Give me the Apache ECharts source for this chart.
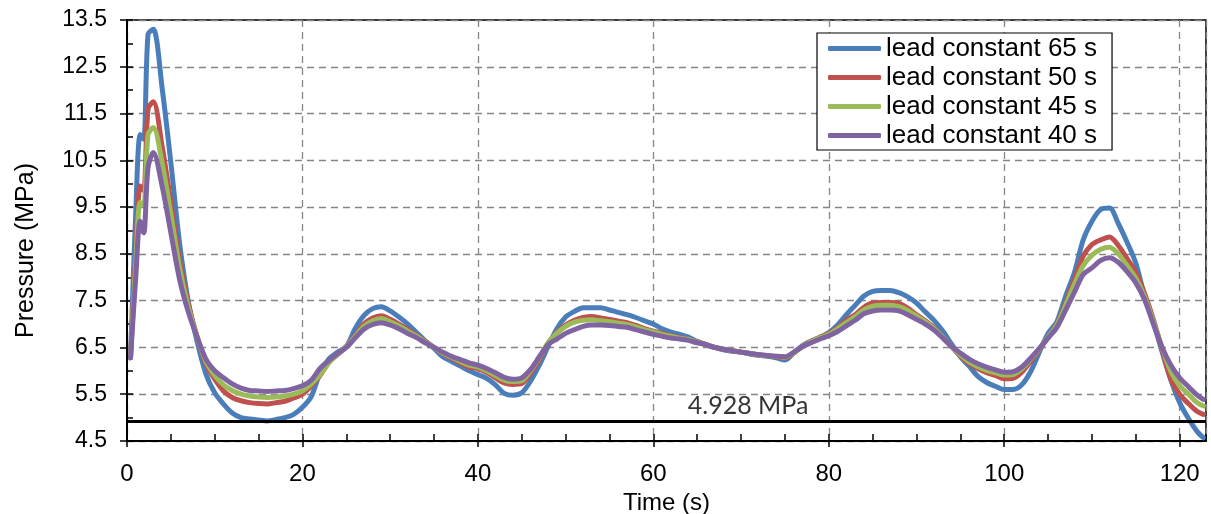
<!DOCTYPE html>
<html>
<head>
<meta charset="utf-8">
<script src="https://cdn.jsdelivr.net/npm/echarts@6/dist/echarts.min.js"></script>
<style>
html,body{margin:0;padding:0;background:#fff;}
#chart{width:1211px;height:514px;}
</style>
</head>
<body>
<div id="chart"></div>
<script>
// ---- data ----
const time = [0.4,1.0,1.5,1.9,2.4,3.0,4,5,6,7,8,9,10,11,12,13,14,15,16,17,18,19,20,21,22,23,24,25,26,27,28,29,30,31,32,33,34,35,36,37,38,39,40,41,42,43,44,45,46,47,48,49,50,51,52,53,54,55,56,57,58,59,60,61,62,63,64,65,66,67,68,69,70,71,72,73,74,75,76,77,78,79,80,81,82,83,84,85,86,87,88,89,90,91,92,93,94,95,96,97,98,99,100,101,102,103,104,105,106,107,108,109,110,111,112,113,114,115,116,117,118,119,120,121,122,122.7];

const lead65 = [6.28,9.4,11.05,10.95,13.2,13.3,12.05,10.45,8.72,7.47,6.62,5.93,5.53,5.29,5.1,5.0,4.97,4.95,4.93,4.96,5.0,5.07,5.22,5.45,5.95,6.25,6.4,6.52,6.9,7.18,7.33,7.37,7.28,7.15,7.0,6.82,6.64,6.48,6.3,6.2,6.1,6.0,5.92,5.84,5.7,5.52,5.48,5.53,5.78,6.12,6.52,6.9,7.15,7.27,7.35,7.35,7.35,7.3,7.25,7.2,7.14,7.07,7.0,6.9,6.83,6.78,6.72,6.63,6.56,6.5,6.45,6.42,6.4,6.36,6.33,6.31,6.28,6.23,6.38,6.54,6.64,6.72,6.82,6.98,7.2,7.4,7.6,7.7,7.72,7.72,7.67,7.58,7.45,7.26,7.08,6.85,6.57,6.3,6.1,5.88,5.75,5.67,5.6,5.6,5.7,5.98,6.4,6.8,7.05,7.6,8.1,8.8,9.2,9.45,9.48,9.15,8.75,8.3,7.6,7.05,6.4,5.8,5.32,4.98,4.7,4.57];

const lead50 = [6.28,8.5,9.95,9.85,11.6,11.75,10.8,9.6,8.35,7.43,6.72,6.15,5.82,5.57,5.43,5.36,5.32,5.3,5.29,5.32,5.35,5.42,5.5,5.68,5.9,6.18,6.35,6.52,6.75,7.0,7.13,7.18,7.1,7.0,6.88,6.76,6.63,6.5,6.37,6.27,6.17,6.08,6.05,5.97,5.85,5.74,5.71,5.73,5.95,6.24,6.58,6.82,6.98,7.08,7.14,7.16,7.13,7.1,7.06,7.03,6.97,6.9,6.85,6.8,6.75,6.71,6.67,6.62,6.56,6.5,6.46,6.43,6.4,6.37,6.34,6.32,6.3,6.28,6.38,6.52,6.63,6.72,6.8,6.92,7.08,7.2,7.36,7.45,7.46,7.46,7.44,7.34,7.2,7.07,6.92,6.72,6.52,6.32,6.16,6.05,5.96,5.9,5.83,5.84,5.97,6.2,6.45,6.72,7.0,7.45,7.95,8.45,8.7,8.8,8.86,8.68,8.4,8.1,7.65,7.1,6.45,5.82,5.5,5.3,5.13,5.07];

const lead45 = [6.28,8.3,9.6,9.55,11.05,11.2,10.45,9.35,8.2,7.35,6.72,6.2,5.9,5.7,5.58,5.5,5.46,5.44,5.43,5.44,5.46,5.5,5.57,5.72,5.92,6.17,6.36,6.52,6.73,6.95,7.07,7.12,7.05,6.96,6.85,6.74,6.62,6.5,6.38,6.29,6.2,6.12,6.08,6.0,5.9,5.8,5.77,5.79,6.0,6.28,6.6,6.8,6.95,7.04,7.08,7.09,7.07,7.05,7.02,6.99,6.94,6.88,6.83,6.78,6.74,6.7,6.67,6.61,6.56,6.5,6.46,6.43,6.4,6.37,6.34,6.32,6.31,6.29,6.38,6.52,6.62,6.71,6.78,6.9,7.03,7.16,7.3,7.38,7.4,7.4,7.37,7.29,7.17,7.05,6.9,6.72,6.52,6.34,6.19,6.09,6.01,5.96,5.91,5.92,6.04,6.25,6.47,6.72,6.98,7.4,7.85,8.25,8.47,8.6,8.64,8.5,8.25,7.98,7.58,7.05,6.5,5.98,5.68,5.5,5.32,5.25];

const lead40 = [6.28,8.0,9.2,8.95,10.35,10.67,9.95,8.95,7.95,7.25,6.72,6.25,6.0,5.85,5.72,5.63,5.58,5.57,5.56,5.57,5.58,5.62,5.68,5.8,6.05,6.22,6.37,6.5,6.7,6.89,6.99,7.03,6.98,6.9,6.8,6.71,6.6,6.5,6.4,6.31,6.24,6.17,6.12,6.05,5.96,5.86,5.82,5.85,6.03,6.3,6.56,6.68,6.8,6.88,6.95,6.98,6.98,6.97,6.95,6.93,6.88,6.83,6.78,6.74,6.7,6.68,6.65,6.6,6.56,6.5,6.46,6.43,6.4,6.37,6.35,6.33,6.31,6.3,6.4,6.52,6.6,6.68,6.75,6.84,6.96,7.08,7.22,7.28,7.3,7.3,7.28,7.2,7.1,7.0,6.87,6.7,6.52,6.38,6.25,6.15,6.08,6.02,5.97,5.98,6.08,6.27,6.48,6.7,6.93,7.3,7.68,8.06,8.2,8.36,8.42,8.32,8.12,7.88,7.52,7.0,6.5,6.12,5.85,5.66,5.48,5.39];

const seriesNames = ['lead constant 65 s','lead constant 50 s','lead constant 45 s','lead constant 40 s'];
const seriesColors = ['#4A7EBB','#C0504D','#9BBB59','#8064A2'];
const seriesValues = [lead65, lead50, lead45, lead40];

const threshold = 4.928;
const thresholdLabel = '4.928 MPa';
const thresholdLabelTime = 70.8;

const xTickLabels = [0,20,40,60,80,100,120];
const yTickLabels = [4.5,5.5,6.5,7.5,8.5,9.5,10.5,11.5,12.5,13.5];

// ---- chart ----
const FONT = '"Liberation Sans", Arial, sans-serif';
const chart = echarts.init(document.getElementById('chart'), null, {renderer:'canvas'});

const lineSeries = seriesNames.map((name, k) => ({
  name: name,
  type: 'line',
  xAxisIndex: 0,
  yAxisIndex: 0,
  data: time.map((t, i) => [t, seriesValues[k][i]]),
  showSymbol: false,
  smooth: 0.3,
  lineStyle: {color: seriesColors[k], width: 5, cap: 'round', join: 'round'},
  itemStyle: {color: seriesColors[k]},
  z: 3 + k,
  animation: false
}));

const gridLine = {show: true, lineStyle: {color: '#858585', width: 1.3, type: [7, 5]}};

const option = {
  backgroundColor: '#fff',
  animation: false,
  grid: {left: 127, right: 5, top: 20, bottom: 73, containLabel: false, outerBoundsMode: 'none',
    show: true, borderColor: '#000', borderWidth: 1.5, backgroundColor: 'transparent'},
  legend: {
    data: seriesNames,
    orient: 'vertical',
    left: 817, top: 33,
    padding: [1, 15, 0, 11],
    itemGap: 0,
    itemWidth: 53, itemHeight: 5,
    icon: 'roundRect',
    backgroundColor: '#fff',
    borderColor: '#000', borderWidth: 1.2,
    textStyle: {fontFamily: FONT, fontSize: 26, color: '#000', lineHeight: 29}
  },
  xAxis: [{
    type: 'value', min: 0, max: 123, interval: 20,
    name: 'Time (s)', nameLocation: 'middle', nameGap: 47,
    nameTextStyle: {fontFamily: FONT, fontSize: 24, color: '#000'},
    axisLine: {show: true, onZero: false, lineStyle: {color: '#000', width: 2}},
    axisTick: {show: true, inside: false, length: 6, lineStyle: {color: '#000', width: 1.5}},
    axisLabel: {show: true, margin: 21, fontFamily: FONT, fontSize: 24, color: '#000', showMaxLabel: false,
      formatter: v => xTickLabels.includes(v) ? String(v) : ''},
    splitLine: gridLine
  }, {
    type: 'value', min: 0, max: 123, interval: 5, position: 'bottom',
    axisLine: {show: false},
    axisTick: {show: true, inside: true, length: 7, lineStyle: {color: '#000', width: 1.5}},
    axisLabel: {show: false},
    splitLine: {show: false}
  }],
  yAxis: [{
    type: 'value', min: 4.5, max: 13.5, interval: 1,
    name: 'Pressure (MPa)', nameLocation: 'middle', nameGap: 88,
    nameTextStyle: {fontFamily: FONT, fontSize: 25, color: '#000', padding: [0, 40, 0, 0]},
    axisLine: {show: true, onZero: false, lineStyle: {color: '#000', width: 2}},
    axisTick: {show: true, inside: false, length: 7, lineStyle: {color: '#000', width: 1.5}},
    axisLabel: {show: true, margin: 20, fontFamily: FONT, fontSize: 23, color: '#000',
      formatter: v => {const f = yTickLabels.find(y => Math.abs(y - v) < 1e-6); return f === undefined ? '' : f.toFixed(1);}},
    splitLine: gridLine
  }, {
    type: 'value', min: 4.5, max: 13.5, interval: 0.5, position: 'left',
    axisLine: {show: false},
    axisTick: {show: true, inside: true, length: 6, lineStyle: {color: '#000', width: 1.5}},
    axisLabel: {show: false},
    splitLine: {show: false}
  }],
  series: lineSeries.concat([{
    name: 'threshold',
    type: 'scatter',
    xAxisIndex: 0, yAxisIndex: 0,
    data: [[thresholdLabelTime, threshold]],
    symbolSize: 0,
    silent: true,
    z: 2,
    label: {show: true, position: 'top', distance: 3, formatter: thresholdLabel,
      fontFamily: 'Lato, "Open Sans", sans-serif', fontSize: 25, color: '#000'},
    markLine: {
      silent: true, symbol: ['none', 'none'],
      label: {show: false},
      lineStyle: {color: '#000', width: 3, type: 'solid'},
      data: [{yAxis: threshold}],
      animation: false
    }
  }])
};
chart.setOption(option);
</script>
</body>
</html>
